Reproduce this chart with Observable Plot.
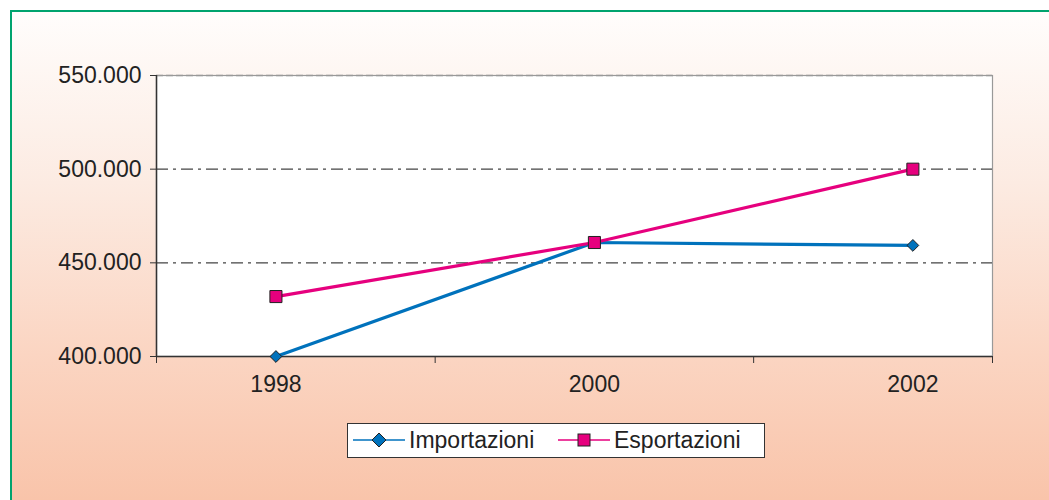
<!DOCTYPE html>
<html>
<head>
<meta charset="utf-8">
<script src="https://cdn.jsdelivr.net/npm/d3@7"></script>
<script src="https://cdn.jsdelivr.net/npm/@observablehq/plot@0.6"></script>
<style>
  html, body { margin: 0; padding: 0; background: #ffffff; }
  #wrap { position: relative; width: 1049px; height: 500px; overflow: hidden; font-family: "Liberation Sans", Arial, sans-serif; }
  #bg { position: absolute; left: 10px; top: 10px; width: 1039px; height: 490px;
        border-top: 2px solid #00a36e; border-left: 2px solid #00a36e; box-sizing: border-box;
        background: linear-gradient(to bottom, #fffdfc 0%, #fcebe2 35%, #fbd5c2 70%, #f9c4aa 100%); }
  #chart { position: absolute; left: 0; top: 0; }
  #legend { position: absolute; left: 347px; top: 423px; width: 418px; height: 35px; box-sizing: border-box;
            border: 1.5px solid #333; background: #fff; font-size: 23px; color: #222; }
  #legend .item { position: absolute; top: 0; height: 32px; display: flex; align-items: center; }
  #legend svg { display: block; }
</style>
</head>
<body>
<div id="wrap">
  <div id="bg"></div>
  <div id="chart"></div>
  <div id="legend"></div>
</div>
<script>
// ---- data ----
const years = [1998, 2000, 2002];
const importazioni = [400000, 460850, 459300];
const esportazioni = [432000, 460850, 500000];
const seriesNames = ["Importazioni", "Esportazioni"];
const seriesColors = ["#0072bc", "#e6007e"];
const yTicks = [400000, 450000, 500000, 550000];
const gridValues = [450000, 500000];
const xDomain = [1997.25, 2002.5];
const xBoundaries = [1997.25, 1999, 2001, 2002.5];

const impData = years.map((y, i) => ({year: y, value: importazioni[i], series: seriesNames[0]}));
const espData = years.map((y, i) => ({year: y, value: esportazioni[i], series: seriesNames[1]}));
const all = impData.concat(espData);

const fmt = d => d3.format(",")(d).replace(/,/g, ".");

const chart = Plot.plot({
  width: 1049,
  height: 500,
  marginLeft: 156,
  marginRight: 57,
  marginTop: 75,
  marginBottom: 144,
  style: {background: "transparent", fontFamily: "'Liberation Sans', Arial, sans-serif", fontSize: "23px", color: "#222", overflow: "visible"},
  x: {type: "linear", domain: xDomain},
  y: {domain: [400000, 550000]},
  color: {domain: seriesNames, range: seriesColors},
  marks: [
    Plot.frame({fill: "white", stroke: "#999", strokeWidth: 1.2}),
    Plot.ruleY([550000], {stroke: "#999", strokeWidth: 1.5, strokeDasharray: "7,3"}),
    Plot.ruleY(gridValues, {stroke: "#444", strokeWidth: 1.2, strokeDasharray: "12,5,3,5"}),
    Plot.ruleX([xDomain[0]], {stroke: "#333", strokeWidth: 1.5}),
    Plot.ruleY([400000], {stroke: "#333", strokeWidth: 1.5}),
    Plot.axisY({ticks: yTicks, tickFormat: fmt, tickSize: 6, tickPadding: 9, label: null, fontSize: 23, stroke: "#333"}),
    Plot.axisX({ticks: years, tickSize: 0, tickPadding: 19, tickFormat: d => String(d), label: null, fontSize: 23}),
    Plot.axisX({ticks: xBoundaries, tickSize: 7, tickFormat: () => "", label: null, stroke: "#333"}),
    Plot.line(all, {x: "year", y: "value", stroke: "series", strokeWidth: 3.2}),
    Plot.dot(impData, {x: "year", y: "value", symbol: "diamond2", r: 5.3, fill: seriesColors[0], stroke: "#222", strokeWidth: 1}),
    Plot.dot(espData, {x: "year", y: "value", symbol: "square", r: 6.8, fill: seriesColors[1], stroke: "#222", strokeWidth: 1})
  ]
});
document.getElementById("chart").appendChild(chart);

// ---- legend ----
const legend = document.getElementById("legend");
const legendSpec = [
  {name: seriesNames[0], color: seriesColors[0], left: 5, sym: "diamond"},
  {name: seriesNames[1], color: seriesColors[1], left: 210, sym: "square"}
];
legendSpec.forEach(s => {
  const item = document.createElement("div");
  item.className = "item";
  item.style.left = s.left + "px";
  const marker = s.sym === "diamond"
    ? `<path d="M26,9 L33,16 L26,23 L19,16 Z" fill="${s.color}" stroke="#222" stroke-width="1"/>`
    : `<rect x="20" y="10" width="12" height="12" fill="${s.color}" stroke="#222" stroke-width="1"/>`;
  item.innerHTML = `<svg width="52" height="32"><line x1="0" y1="16" x2="52" y2="16" stroke="${s.color}" stroke-width="1.5"/>${marker}</svg><span style="margin-left:4px">${s.name}</span>`;
  legend.appendChild(item);
});
</script>
</body>
</html>
